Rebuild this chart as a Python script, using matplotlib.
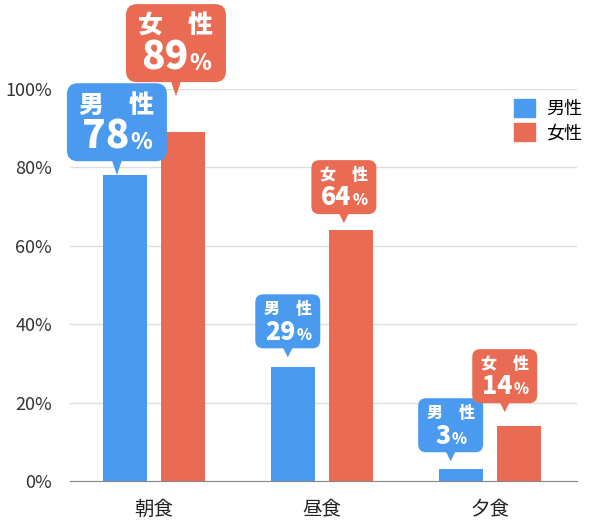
import matplotlib
matplotlib.use('Agg')
import matplotlib.pyplot as plt
from matplotlib import transforms
from matplotlib.patches import FancyBboxPatch, Polygon, Patch

plt.rcParams['font.family'] = ['Noto Sans CJK JP', 'DejaVu Sans']

meals = ['朝食', '昼食', '夕食']
male = [78, 29, 3]
female = [89, 64, 14]
series = ['男性', '女性']
yticks = [0, 20, 40, 60, 80, 100]

blue = '#4a9bef'
red = '#ea6b54'

# callout look for each bar: (big box?, tip shift in px, gap above bar in px)
male_tags = [(True, -8, 0), (False, -5, 10), (False, -10, 8)]
female_tags = [(True, -7, 36), (False, -7, 7), (False, -14, 14)]

fig = plt.figure(figsize=(6.05, 5.28), dpi=100)
ax = fig.add_axes([70 / 605, 1 - 481 / 528, 507 / 605, 392 / 528])

x = list(range(len(meals)))
w = 0.262
off = 0.173
ax.bar([i - off for i in x], male, w, color=blue, zorder=2)
ax.bar([i + off for i in x], female, w, color=red, zorder=2)

ax.set_xlim(-0.5, 2.52)
ax.set_ylim(0, 100)
ax.set_yticks(yticks)
ax.set_yticklabels([f'{t}%' for t in yticks])
ax.set_xticks(x)
ax.set_xticklabels(meals)
ax.tick_params(length=0)
ax.tick_params(axis='y', pad=13, labelsize=13, labelcolor='#333333')
ax.tick_params(axis='x', pad=13, labelsize=14, labelcolor='#222222')
ax.grid(axis='y', color='#dddddd', lw=1, zorder=0)
for s in ['top', 'right', 'left']:
    ax.spines[s].set_visible(False)
ax.spines['bottom'].set_color('#888888')


def px(v):
    return v / 100.0


pending = []


def tag(xc, val, color, who, big, dx, gap):
    bw, bh, tri, rad = (100, 78, 14, 11) if big else (65, 54, 9, 8)
    fs_who, fs_num, fs_pct = (18, 28, 16) if big else (11.5, 18, 11)
    trans = fig.dpi_scale_trans + transforms.ScaledTranslation(xc, val, ax.transData)
    bottom = gap + tri
    box = FancyBboxPatch((px(dx - bw / 2), px(bottom)), px(bw), px(bh),
                         boxstyle=f'round,pad=0,rounding_size={px(rad)}',
                         transform=trans, fc=color, ec='none', clip_on=False, zorder=5)
    fig.add_artist(box)
    tri_p = Polygon([(px(dx - 5), px(bottom + 1)), (px(dx + 5), px(bottom + 1)), (px(dx), px(gap))],
                    closed=True, transform=trans, fc=color, ec='none', clip_on=False, zorder=5)
    fig.add_artist(tri_p)
    fig.text(px(dx), px(bottom + bh * 0.72), who[0] + '\u3000' + who[1], transform=trans,
             ha='center', va='center', fontsize=fs_who, color='white', fontweight='heavy', zorder=6)
    t1 = fig.text(px(dx), px(bottom + bh * 0.16), str(val), transform=trans,
                  ha='left', va='baseline', fontsize=fs_num, color='white', fontweight='heavy', zorder=6)
    t2 = fig.text(px(dx), px(bottom + bh * 0.16), '%', transform=trans,
                  ha='left', va='baseline', fontsize=fs_pct, color='white', fontweight='heavy', zorder=6)
    pending.append((t1, t2, px(dx)))


for i in x:
    big, dx, gap = male_tags[i]
    tag(i - off, male[i], blue, series[0], big, dx, gap)
    big, dx, gap = female_tags[i]
    tag(i + off, female[i], red, series[1], big, dx, gap)

ax.legend(handles=[Patch(color=blue, label=series[0]), Patch(color=red, label=series[1])],
          loc='upper right', bbox_to_anchor=(582 / 605, 1 - 99 / 528), bbox_transform=fig.transFigure,
          frameon=False, fontsize=13, handlelength=1.15, handleheight=1.15,
          labelspacing=0.3, handletextpad=0.6, borderpad=0, borderaxespad=0)

# center number + % as one group
fig.canvas.draw()
r = fig.canvas.get_renderer()
for t1, t2, cx in pending:
    w1 = t1.get_window_extent(r).width / fig.dpi
    w2 = t2.get_window_extent(r).width / fig.dpi
    x0 = cx - (w1 + w2) / 2
    t1.set_x(x0)
    t2.set_x(x0 + w1 + 0.01)

fig.savefig('out.png', dpi=100)
